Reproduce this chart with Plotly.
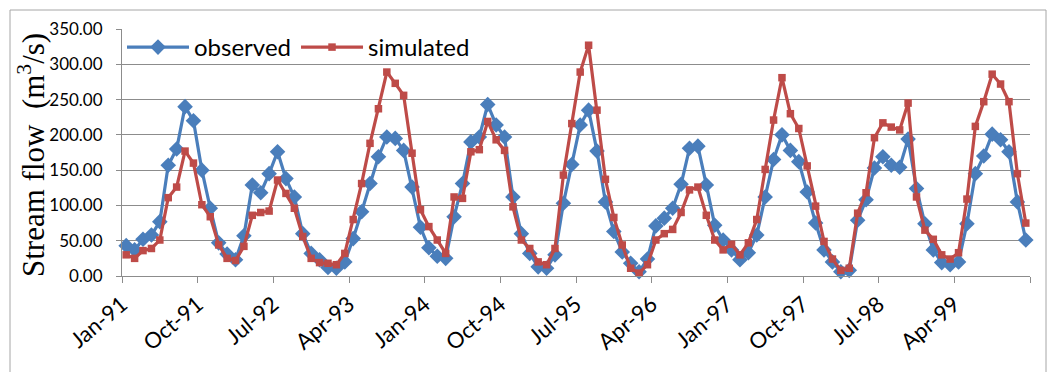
import plotly.graph_objects as go

# Monthly stream flow, Jan-1991 .. Dec-1999 (m3/s)
observed = [
    43, 37, 52, 58, 77, 157, 180, 240, 220, 150, 96, 47,
    31, 23, 57, 129, 118, 145, 176, 138, 112, 60, 32, 23,
    12, 11, 20, 53, 91, 131, 169, 197, 195, 178, 126, 69,
    40, 28, 25, 84, 131, 190, 197, 243, 214, 197, 112, 60,
    32, 13, 11, 30, 103, 158, 214, 235, 177, 105, 63, 34,
    18, 6, 24, 71, 82, 96, 130, 181, 184, 129, 72, 51,
    37, 23, 33, 58, 112, 165, 200, 178, 162, 119, 75, 37,
    20, 6, 8, 79, 108, 153, 169, 157, 154, 194, 124, 74,
    37, 19, 16, 20, 74, 145, 170, 201, 193, 176, 105, 51,
]
simulated = [
    30, 25, 36, 39, 51, 111, 126, 177, 160, 101, 84, 44,
    25, 22, 42, 86, 90, 92, 136, 117, 96, 56, 25, 19,
    18, 16, 32, 80, 131, 188, 237, 289, 273, 256, 174, 94,
    70, 51, 32, 112, 110, 176, 179, 219, 193, 178, 98, 51,
    39, 20, 16, 39, 143, 216, 289, 327, 235, 137, 83, 44,
    11, 4, 16, 51, 60, 66, 90, 122, 126, 86, 51, 37,
    45, 30, 47, 80, 151, 221, 281, 230, 209, 156, 99, 49,
    24, 8, 11, 89, 118, 196, 217, 211, 207, 245, 112, 65,
    52, 30, 24, 33, 109, 212, 247, 286, 272, 247, 145, 75,
]
tick_labels = ["Jan-91", "Oct-91", "Jul-92", "Apr-93", "Jan-94", "Oct-94",
               "Jul-95", "Apr-96", "Jan-97", "Oct-97", "Jul-98", "Apr-99"]
tick_step = 9  # months between labelled ticks

month_index = list(range(len(observed)))

BLUE = "#4A7EBB"
RED = "#BE4B48"
GRID = "#8C8C8C"
LABEL_FONT = "Lato, 'Liberation Sans', sans-serif"

W, H = 1054, 372
ML, MR, MT, MB = 122, 24, 29, 96
plot_w = W - ML - MR
plot_h = H - MT - MB

fig = go.Figure()
fig.add_trace(go.Scatter(
    x=month_index, y=observed, name="observed", mode="lines+markers",
    line=dict(color=BLUE, width=3.2),
    marker=dict(symbol="diamond", size=12, color=BLUE),
    cliponaxis=False,
))
fig.add_trace(go.Scatter(
    x=month_index, y=simulated, name="simulated", mode="lines+markers",
    line=dict(color=RED, width=3.2),
    marker=dict(symbol="square", size=7.5, color=RED),
    cliponaxis=False,
))

n = len(observed)
tickvals = [-0.5 + tick_step * k for k in range(len(tick_labels) + 1)]
ticktext = tick_labels + [""]

fig.update_xaxes(
    range=[-0.5, n - 0.5], tickvals=tickvals, ticktext=ticktext,
    ticks="outside", ticklen=6, tickcolor=GRID, tickwidth=1,
    showline=True, linecolor=GRID, linewidth=1, showgrid=False,
    zeroline=False, tickangle=-40,
    tickfont=dict(family=LABEL_FONT, size=22, color="#000000"),
)
fig.update_yaxes(
    range=[0, 350], dtick=50, tickformat=".2f",
    ticks="outside", ticklen=5, tickcolor=GRID, tickwidth=1,
    showline=True, linecolor=GRID, linewidth=1,
    showgrid=True, gridcolor=GRID, gridwidth=1, zeroline=False,
    tickfont=dict(family=LABEL_FONT, size=17, color="#000000"),
    ticklabelstandoff=10,
)

def px_x(x):
    return (x - ML) / plot_w

def px_y(y):
    return (H - MB - y) / plot_h

# outer chart border
fig.add_shape(type="rect", xref="paper", yref="paper",
              x0=px_x(10), x1=px_x(1046), y0=px_y(380), y1=px_y(10),
              line=dict(color="#A6A6A6", width=1), fillcolor="rgba(0,0,0,0)",
              layer="below")

fig.add_annotation(
    text="Stream flow  (m<sup>3</sup>/s)", textangle=-90,
    xref="paper", yref="paper", x=px_x(31), y=px_y(155),
    xanchor="center", yanchor="middle", showarrow=False,
    font=dict(family="'Liberation Serif', 'Times New Roman', serif", size=31, color="#000000"),
)

fig.update_layout(
    width=W, height=H, autosize=False,
    margin=dict(l=ML, r=MR, t=MT, b=MB),
    paper_bgcolor="white", plot_bgcolor="white",
    showlegend=True,
    legend=dict(
        orientation="h", x=px_x(122), y=px_y(25), xanchor="left", yanchor="top",
        bgcolor="rgba(0,0,0,0)", itemwidth=62,
        font=dict(family=LABEL_FONT, size=24, color="#000000"),
        tracegroupgap=0,
    ),
)

fig.write_html("out.html")
